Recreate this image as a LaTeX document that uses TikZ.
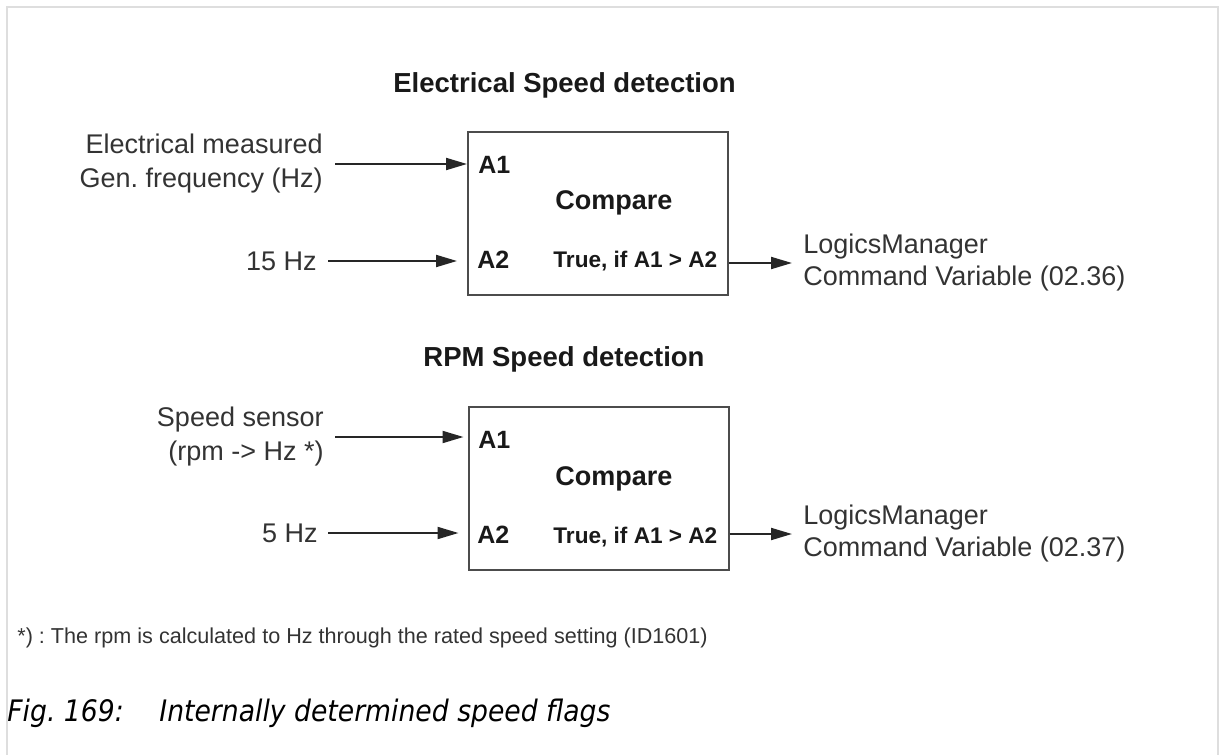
\documentclass[tikz,border=0pt]{standalone}
\usepackage{fontspec}
\setmainfont{Liberation Sans}
\newfontfamily\capfont[FakeStretch=0.9]{DejaVu Sans}
\usetikzlibrary{arrows.meta,positioning}
\frenchspacing

\begin{document}
\begin{tikzpicture}[x=0.5pt, y=-0.5pt, >={Triangle[length=10.5pt,width=6pt]},
  lbl/.style={text=black!80, font=\fontsize{13.5}{17}\selectfont, inner sep=0pt, align=right},
  outlbl/.style={text=black!80, font=\fontsize{13.5}{16}\selectfont, inner sep=0pt, align=left, anchor=west},
  ttl/.style={text=black!90, font=\bfseries\fontsize{13.75}{16}\selectfont, inner sep=0pt, anchor=base west},
  port/.style={text=black!90, font=\bfseries\fontsize{12.5}{15}\selectfont, inner sep=0pt, anchor=base west},
  cmp/.style={text=black!90, font=\bfseries\fontsize{13.5}{16}\selectfont, inner sep=0pt, anchor=base west},
  cond/.style={text=black!90, font=\bfseries\fontsize{11.3}{14}\selectfont, inner sep=0pt, anchor=base west},
  foot/.style={text=black!80, font=\fontsize{10.8}{13}\selectfont, inner sep=0pt, anchor=base west},
  capt/.style={text=black, font=\capfont\itshape\fontsize{14.8}{18}\selectfont, inner sep=0pt, anchor=base west},
  blk/.style={draw=black!70, line width=1pt, minimum width=130pt, minimum height=81.5pt, inner sep=0pt},
  arr/.style={->, draw=black!85, line width=1pt}]
\useasboundingbox (0,0) rectangle (1223,755);
% page frame
\draw[black!13, line width=0.6pt] (7,755) -- (7,7) -- (1218,7) -- (1218,755);

% electrical speed detection
\node[ttl] (ttl1) at (393,92) {Electrical Speed detection};
\node[blk] (blk1) at (598,213.5) {};
\node[port] (a11) at (478,173) {A1};
\node[port] (a21) at (477,268) {A2};
\node[cmp] (cmp1) at (555,209) {Compare};
\node[cond] (cnd1) at (553,267) {True, if A1 > A2};
\node[lbl, anchor=east] (in11) at (323,164) {Electrical measured\\Gen. frequency (Hz)};
\node[lbl, anchor=east] (in21) at (317,261) {15 Hz};
\node[outlbl] (out1) at (803,263) {LogicsManager\\Command Variable (02.36)};
\draw[arr, shorten <=6pt] (in11.east) -- (in11.east -| blk1.west);
\draw[arr, shorten <=5.5pt, shorten >=5pt] (in21.east) -- (in21.east -| blk1.west);
\draw[arr, shorten >=5.5pt] (out1.west -| blk1.east) -- (out1.west);

% rpm speed detection
\node[ttl] (ttl2) at (423,366) {RPM Speed detection};
\node[blk] (blk2) at (598.5,488.5) {};
\node[port] (a12) at (478,448) {A1};
\node[port] (a22) at (477,543) {A2};
\node[cmp] (cmp2) at (555,485) {Compare};
\node[cond] (cnd2) at (553,543) {True, if A1 > A2};
\node[lbl, anchor=east] (in12) at (324,437) {Speed sensor\\(rpm -> Hz *)};
\node[lbl, anchor=east] (in22) at (318,533) {5 Hz};
\node[outlbl] (out2) at (803,534) {LogicsManager\\Command Variable (02.37)};
\draw[arr, shorten <=5.5pt, shorten >=2pt] (in12.east) -- (in12.east -| blk2.west);
\draw[arr, shorten <=5pt, shorten >=4.5pt] (in22.east) -- (in22.east -| blk2.west);
\draw[arr, shorten >=5.5pt] (out2.west -| blk2.east) -- (out2.west);

% footnote and caption
\node[foot] (note) at (17,643) {*) : The rpm is calculated to Hz through the rated speed setting (ID1601)};
\node[capt] (figno) at (7,721) {Fig. 169:};
\node[capt] (figtxt) at (159,721) {Internally determined speed flags};
\end{tikzpicture}
\end{document}
